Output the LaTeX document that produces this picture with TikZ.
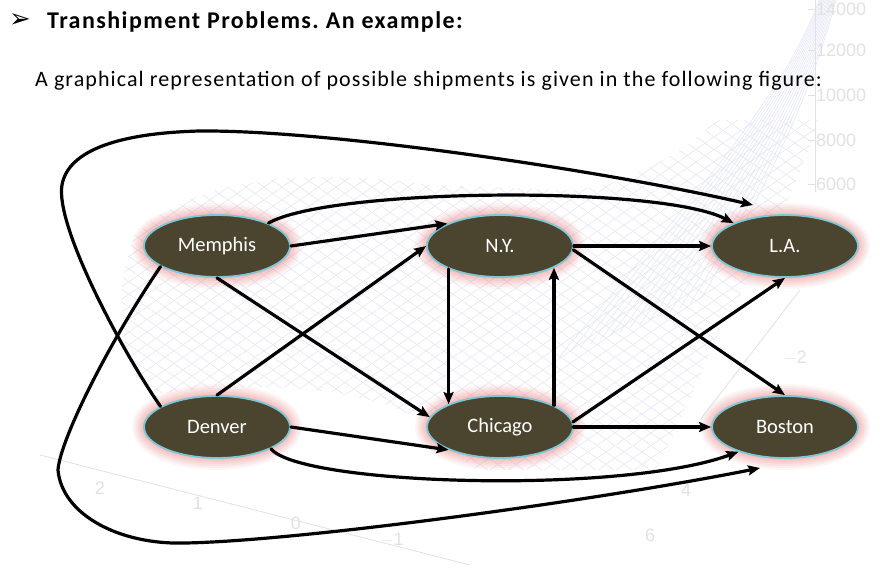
\documentclass[tikz,border=0pt]{standalone}
\usepackage{fontspec}
\setmainfont{Carlito}
\newfontfamily\symfont{DejaVu Sans}
\newfontfamily\axisfont{Liberation Sans}
\newfontfamily\headfont[LetterSpace=6]{Carlito}
\newfontfamily\leadfont[LetterSpace=5]{Carlito}
\usetikzlibrary{shapes.geometric,arrows.meta}

\definecolor{nodefill}{RGB}{75,68,46}
\definecolor{nodeedge}{RGB}{125,200,215}
\definecolor{glowpink}{RGB}{240,130,130}
\definecolor{meshline}{RGB}{233,233,249}
\definecolor{axisgray}{RGB}{226,226,226}

\tikzset{
  city/.style={ellipse, minimum width=146pt, minimum height=62pt, inner sep=0pt,
    fill=nodefill, draw=nodeedge, line width=1.8pt, text=white,
    font=\fontsize{20.5}{24}\selectfont,
    preaction={draw=glowpink, draw opacity=0.07, line width=24pt},
    preaction={draw=glowpink, draw opacity=0.08, line width=20pt},
    preaction={draw=glowpink, draw opacity=0.10, line width=16pt},
    preaction={draw=glowpink, draw opacity=0.11, line width=12pt},
    preaction={draw=glowpink, draw opacity=0.13, line width=8pt},
    preaction={draw=glowpink, draw opacity=0.15, line width=4pt}},
  ship/.style={line width=3.2pt, line cap=round,
    -{Stealth[length=12pt,width=10pt,inset=2pt]}},
  heavy/.style={line width=4.3pt},
  mesh/.style={draw=meshline, line width=0.7pt},
  axisline/.style={draw=axisgray, line width=0.8pt},
  axislabel/.style={text=axisgray, font=\axisfont\fontsize{18}{20}\selectfont, inner sep=0pt},
}

\begin{document}
\frenchspacing
\begin{tikzpicture}[x=1pt,y=-1pt]
  \useasboundingbox (0,0) rectangle (892,572);
  \fill[white] (0,0) rectangle (892,572);

  % faint surface plot behind the network
  \begin{scope}
    \clip (135,235) .. controls (200,170) and (330,170) .. (430,185)
      -- (560,190) .. controls (650,190) and (740,120) .. (815,0)
      -- (845,0) .. controls (830,120) and (780,230) .. (720,330)
      .. controls (680,420) and (650,500) .. (600,545)
      .. controls (540,520) and (470,470) .. (420,420)
      .. controls (360,385) and (250,380) .. (150,395)
      .. controls (120,370) and (110,300) .. cycle;
    \foreach \k in {0,...,75} {
      \draw[mesh] (\k*18-300,120) -- ++(500,350);
      \draw[mesh] (\k*18,120) -- ++(-500,350);
    }
    \foreach \k in {0,...,14} {
      \draw[mesh] (836-\k*1.2,0) .. controls (810-\k*2,100) and (760-\k*5,200) .. (700-\k*10,300+\k*4);
    }
  \end{scope}

  % axes of the surface plot
  \draw[axisline] (815,0) -- (815,192);
  \foreach \yy/\lab in {9/14000,50/12000,95/10000,140/8000,184/6000} {
    \draw[axisline] (808,\yy) -- (815,\yy);
    \node[axislabel, anchor=west] at (816,\yy) {\lab};
  }
  \draw[axisline] (40,455) -- (470,565);
  \node[axislabel] (t2) at (100,488) {2};
  \node[axislabel] (t1) at (198,503) {1};
  \node[axislabel] (t0) at (296,523) {0};
  \node[axislabel] (tm1) at (392,540) {$-$1};
  \node[axislabel] (t6) at (650,535) {6};
  \node[axislabel] (t4) at (686,490) {4};
  \draw[axisline] (700,420) -- (800,290);
  \node[axislabel] (tm2) at (795,358) {$-$2};

  % heading
  \node[anchor=base west, font=\symfont\fontsize{26}{30}\selectfont, inner sep=0pt] (bullet) at (9,28) {➢};
  \node[anchor=base west, font=\headfont\fontsize{24}{28}\selectfont\bfseries, inner sep=0pt] (title) at (47,29) {Transhipment Problems. An example:};
  \node[anchor=base west, font=\leadfont\fontsize{22}{26}\selectfont, inner sep=0pt] (subtitle) at (35,87) {A graphical representation of possible shipments is given in the following figure:};

  % cities
  \node[city] (m)  at (217,246) {Memphis};
  \node[city] (ny) at (500,246) {N.Y.};
  \node[city] (la) at (785,246) {L.A.};
  \node[city] (d)  at (217,427) {Denver};
  \node[city] (c)  at (500,427) {Chicago};
  \node[city] (b)  at (785,427) {Boston};

  \coordinate (laTop) at (753,205);
  \coordinate (bosBot) at (760,468);

  % possible shipments
  \draw[ship] (m.east) -- (ny.157);
  \draw[ship] (m.24) .. controls (330,188) and (660,185) .. (la.156);
  \draw[ship] (d.160) .. controls (120,348) and (55,225) .. (62,185)
    .. controls (68,150) and (120,133) .. (200,131)
    .. controls (330,130) and (600,170) .. (laTop);
  \draw[ship] (m.200) .. controls (108,344) and (60,440) .. (58,470)
    .. controls (62,515) and (120,545) .. (185,543)
    .. controls (300,541) and (600,500) .. (bosBot);
  \draw[ship] (d.-22) .. controls (300,485) and (620,495) .. (b.208);
  \draw[ship] (m.south) -- (c.172);
  \draw[ship] (d.north) -- (ny.west);
  \draw[ship] (ny.204) -- (c.156);
  \draw[ship] (c.22) -- (ny.-22);
  \draw[ship] (ny.east) -- (la.west);
  \draw[ship] (ny.-3) -- (b.north);
  \draw[ship] (c.4) -- (la.south);
  \draw[ship, heavy] (c.east) -- (b.west);
  \draw[ship] (d.east) -- (c.204);
\end{tikzpicture}
\end{document}
